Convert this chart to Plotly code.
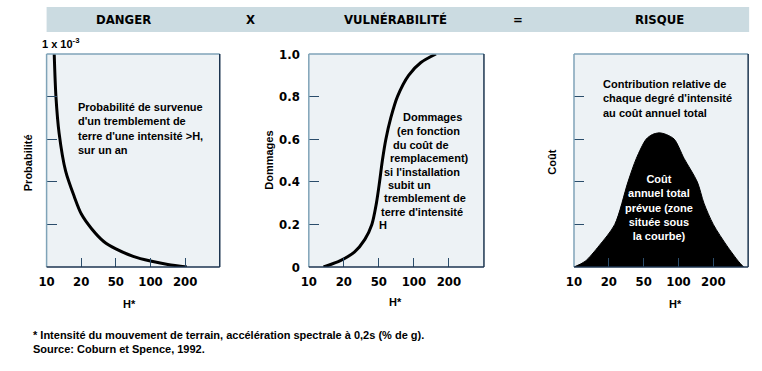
import plotly.graph_objects as go

W, H = 762, 371

# ---- data ----
tick_pos = [0, 1, 2, 3, 4]
tick_labels = ['10', '20', '50', '100', '200']

y_ticks = [0, 0.2, 0.4, 0.6, 0.8, 1.0]
y_tick_labels = ['0', '0.2', '0.4', '0.6', '0.8', '1.0']

danger_x = [0.22, 0.27, 0.36, 0.55, 0.8, 1.0, 1.3, 1.65, 2.0, 2.5, 3.0, 3.5, 4.05]
danger_y = [1.0, 0.8, 0.63, 0.45, 0.33, 0.25, 0.18, 0.12, 0.085, 0.05, 0.028, 0.012, 0.0]

vuln_x = [0.42, 0.9, 1.3, 1.6, 1.8, 1.93, 2.02, 2.1, 2.2, 2.34, 2.53, 2.85, 3.2, 3.63]
vuln_y = [0.0, 0.03, 0.07, 0.13, 0.2, 0.3, 0.4, 0.5, 0.6, 0.7, 0.8, 0.9, 0.96, 1.0]

risk_x = [0, 0.32, 0.72, 1.17, 1.55, 1.79, 2.07, 2.25, 2.45, 2.65, 2.88, 3.16, 3.54, 3.73, 4.0, 4.39, 4.72, 4.87]
risk_y = [0, 0.027, 0.1, 0.2, 0.4, 0.51, 0.6, 0.622, 0.63, 0.622, 0.6, 0.51, 0.4, 0.3, 0.2, 0.1, 0.027, 0]

header_labels = ['DANGER', 'X', 'VULNÉRABILITÉ', '=', 'RISQUE']
y_titles = ['Probabilité', 'Dommages', 'Coût']
x_title = 'H*'
danger_text = "Probabilité de survenue<br>d'un tremblement de<br>terre d'une intensité >H,<br>sur un an"
vuln_lines = ['Dommages', '(en fonction', 'du coût de', 'remplacement)', "si l'installation",
              'subit un', 'tremblement de', "terre d'intensité", 'H']
risk_text_top = "Contribution relative de<br>chaque degré d'intensité<br>au coût annuel total"
risk_text_in = "Coût<br>annuel total<br>prévue (zone<br>située sous<br>la courbe)"
scale_text = '1 x 10<sup>-3</sup>'
footnotes = ["* Intensité du mouvement de terrain, accélération spectrale à 0,2s (% de g).",
             "Source: Coburn et Spence, 1992."]

# ---- styling / layout helpers ----
BG = '#edf2f5'
HEADER = '#cbdbe1'
LIGHT = '#7fa3b8'
DARK = '#1c3550'
TICK = '#2b4d6b'
NARROW = 'Liberation Sans Narrow, Arial Narrow, DejaVu Sans Condensed, Liberation Sans, sans-serif'
ARIAL = 'Liberation Sans, Arial, sans-serif'


def px(x):
    return x / W


def py(y):
    return 1 - y / H


panels = [(39, 214), (304, 481), (572, 748)]
top_px, bot_px = 49, 271

fig = go.Figure()

fig.add_trace(go.Scatter(x=danger_x, y=danger_y, mode='lines', xaxis='x', yaxis='y',
                         line=dict(color='black', width=3, shape='spline', smoothing=0.8),
                         hoverinfo='skip', showlegend=False))
fig.add_trace(go.Scatter(x=vuln_x, y=vuln_y, mode='lines', xaxis='x2', yaxis='y2',
                         line=dict(color='black', width=3, shape='spline', smoothing=0.8),
                         hoverinfo='skip', showlegend=False))
fig.add_trace(go.Scatter(x=risk_x, y=risk_y, mode='lines', xaxis='x3', yaxis='y3',
                         fill='tozeroy', fillcolor='black',
                         line=dict(color='black', width=1, shape='spline', smoothing=0.8),
                         hoverinfo='skip', showlegend=False))

layout = dict(width=W, height=H, autosize=False,
              margin=dict(l=0, r=0, t=0, b=0, pad=0),
              paper_bgcolor='white', plot_bgcolor=BG, showlegend=False)

tickfont = dict(family=NARROW, size=13, color='black', weight='bold')
for i, (l, r) in enumerate(panels):
    sfx = '' if i == 0 else str(i + 1)
    layout['xaxis' + sfx] = dict(
        domain=[px(l), px(r)], range=[0, 5], anchor='y' + sfx,
        tickvals=tick_pos, ticktext=tick_labels, ticks='inside', ticklen=9,
        tickwidth=1, tickcolor=TICK, showgrid=False, zeroline=False, showline=False,
        tickfont=tickfont, ticklabelstandoff=5, fixedrange=True)
    layout['yaxis' + sfx] = dict(
        domain=[py(bot_px), py(top_px)], range=[0, 1], anchor='x' + sfx,
        tickvals=y_ticks, ticktext=y_tick_labels if i == 1 else None,
        showticklabels=(i == 1), ticks='inside', ticklen=10,
        tickwidth=1, tickcolor=TICK, showgrid=False, zeroline=False, showline=False,
        tickfont=tickfont, ticklabelstandoff=8, fixedrange=True)

shapes = [dict(type='rect', xref='paper', yref='paper', x0=px(39), x1=px(749),
               y0=py(26), y1=py(0), fillcolor=HEADER, line=dict(width=0), layer='below')]
for i in range(3):
    sfx = '' if i == 0 else str(i + 1)
    xr, yr = 'x' + sfx + ' domain', 'y' + sfx + ' domain'
    for (x0, y0, x1, y1, c) in [(0, 1, 1, 1, LIGHT), (0, 0, 0, 1, LIGHT),
                                (0, 0, 1, 0, DARK), (1, 0, 1, 1, DARK)]:
        shapes.append(dict(type='line', xref=xr, yref=yr, x0=x0, y0=y0, x1=x1, y1=y1,
                           line=dict(color=c, width=1.5), layer='above'))
layout['shapes'] = shapes

bold11 = dict(family=ARIAL, size=11, color='black', weight='bold')
ann = []
header_x = [117, 245, 392, 515, 658]
for t, x in zip(header_labels, header_x):
    ann.append(dict(text=t, x=px(x), y=py(13), xref='paper', yref='paper',
                    xanchor='center', yanchor='middle', showarrow=False,
                    font=dict(family=NARROW, size=13, color='black', weight='bold')))

ytitle_pos = [(21, 162), (263, 160), (550, 162)]
for t, (x, y) in zip(y_titles, ytitle_pos):
    ann.append(dict(text=t, x=px(x), y=py(y), xref='paper', yref='paper', textangle=-90,
                    xanchor='center', yanchor='middle', showarrow=False, font=bold11))

for x, y in [(123, 310), (392, 307), (675, 310)]:
    ann.append(dict(text=x_title, x=px(x), y=py(y), xref='paper', yref='paper',
                    xanchor='center', yanchor='middle', showarrow=False, font=bold11))

ann.append(dict(text=scale_text, x=px(32), y=py(38), xref='paper', yref='paper',
                xanchor='left', yanchor='middle', showarrow=False, font=bold11))

ann.append(dict(text=danger_text, x=0.857, y=0.652, xref='x', yref='y', align='left',
                xanchor='left', yanchor='middle', showarrow=False, font=bold11))

vuln_pos = [(2.62, 0.703), (2.45, 0.638), (2.35, 0.575), (2.27, 0.51), (2.08, 0.447),
            (2.19, 0.384), (2.08, 0.323), (2.0, 0.26), (1.94, 0.197)]
for t, (x, y) in zip(vuln_lines, vuln_pos):
    ann.append(dict(text=t, x=x, y=y, xref='x2', yref='y2', align='left',
                    xanchor='left', yanchor='middle', showarrow=False, font=bold11))

ann.append(dict(text=risk_text_top, x=0.77, y=0.79, xref='x3', yref='y3', align='left',
                xanchor='left', yanchor='middle', showarrow=False, font=bold11))
ann.append(dict(text=risk_text_in, x=2.44, y=0.279, xref='x3', yref='y3', align='center',
                xanchor='center', yanchor='middle', showarrow=False,
                font=dict(family=ARIAL, size=11, color='white', weight='bold')))

for t, y in zip(footnotes, [342, 356]):
    ann.append(dict(text=t, x=px(23), y=py(y), xref='paper', yref='paper',
                    xanchor='left', yanchor='middle', showarrow=False, font=bold11))

layout['annotations'] = ann
fig.update_layout(**layout)
fig.write_html('out.html', config={'displayModeBar': False},
               post_script="document.body.style.margin='0';document.body.style.padding='0';")
